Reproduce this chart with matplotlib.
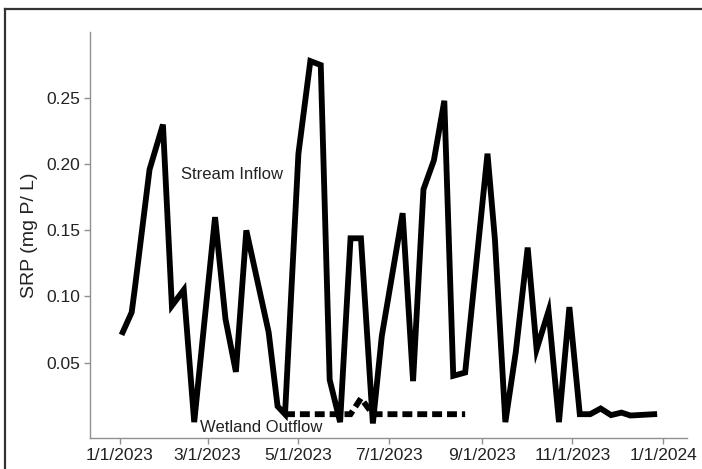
import numpy as np
import pandas as pd
import matplotlib
matplotlib.use('Agg')
import matplotlib.pyplot as plt
import matplotlib.dates as mdates
from matplotlib.lines import Line2D

plt.rcParams.update({'font.family': ['Liberation Sans', 'DejaVu Sans'],
                     'font.size': 12.5})

# stream inflow SRP samples
inflow_dates = ['2023-01-03', '2023-01-09', '2023-01-11', '2023-01-21', '2023-01-30',
                '2023-02-05', '2023-02-13', '2023-02-20', '2023-03-06', '2023-03-13',
                '2023-03-20', '2023-03-27', '2023-04-11', '2023-04-17', '2023-04-22',
                '2023-05-01', '2023-05-09', '2023-05-16', '2023-05-22', '2023-05-29',
                '2023-06-05', '2023-06-12', '2023-06-20', '2023-06-26', '2023-07-10',
                '2023-07-17', '2023-07-24', '2023-07-31', '2023-08-07', '2023-08-13',
                '2023-08-21', '2023-09-05', '2023-09-10', '2023-09-17', '2023-09-24',
                '2023-10-02', '2023-10-08', '2023-10-16', '2023-10-23', '2023-10-30',
                '2023-11-06', '2023-11-13', '2023-11-20', '2023-11-27', '2023-12-04',
                '2023-12-10', '2023-12-26']
inflow_srp = [0.073, 0.088, 0.105, 0.196, 0.230,
              0.093, 0.105, 0.005, 0.160, 0.083,
              0.043, 0.150, 0.073, 0.017, 0.011,
              0.208, 0.278, 0.275, 0.037, 0.005,
              0.144, 0.144, 0.004, 0.070, 0.163,
              0.036, 0.181, 0.203, 0.248, 0.040,
              0.0425, 0.208, 0.143, 0.005, 0.058,
              0.137, 0.060, 0.089, 0.005, 0.092,
              0.011, 0.011, 0.0153, 0.0103, 0.0122,
              0.010, 0.011]

# wetland outflow SRP samples
outflow_dates = ['2023-04-22', '2023-06-05', '2023-06-12', '2023-06-20', '2023-08-21']
outflow_srp = [0.011, 0.011, 0.023, 0.011, 0.011]

x_in = pd.to_datetime(inflow_dates)
x_out = pd.to_datetime(outflow_dates)

fig = plt.figure(figsize=(7.02, 4.69), dpi=100)
ax = fig.add_axes([0.1282, 0.0661, 0.8504, 0.8657])

ax.plot(x_in, inflow_srp, color='k', lw=4.2, solid_joinstyle='miter')
ax.plot(x_out, outflow_srp, color='k', lw=4.2, linestyle=(0, (1.7, 0.85)),
        dash_joinstyle='miter')

ax.text(pd.Timestamp('2023-02-11'), 0.192, 'Stream Inflow', fontsize=12,
        color='#222222', va='center', ha='left')
ax.text(pd.Timestamp('2023-02-24'), 0.0008, 'Wetland Outflow', fontsize=12,
        color='#222222', va='center', ha='left')

ax.set_xlim(pd.Timestamp('2022-12-12'), pd.Timestamp('2024-01-17'))
ax.set_ylim(-0.007, 0.300)
ax.set_yticks([0.05, 0.10, 0.15, 0.20, 0.25])
ax.yaxis.set_major_formatter(plt.FormatStrFormatter('%.2f'))
ax.xaxis.set_major_locator(mdates.MonthLocator(bymonth=[1, 3, 5, 7, 9, 11]))
ax.xaxis.set_major_formatter(plt.FuncFormatter(
    lambda v, pos: '{d.month}/{d.day}/{d.year}'.format(d=mdates.num2date(v))))
ax.set_ylabel('SRP (mg P/ L)', fontsize=14, color='#222222', labelpad=6)

for s in ['top', 'right']:
    ax.spines[s].set_visible(False)
for s in ['left', 'bottom']:
    ax.spines[s].set_color('#909090')
    ax.spines[s].set_linewidth(1.0)
ax.tick_params(colors='#909090', labelcolor='#222222', length=4, width=1.0, pad=3)

# outer frame: only the top and left edges show in the picture
top = 1 - 9 / 469
left = 5 / 702
fig.lines.append(Line2D([left, 1.0], [top, top], transform=fig.transFigure,
                        color='#333333', lw=1.6))
fig.lines.append(Line2D([left, left], [0.0, top], transform=fig.transFigure,
                        color='#333333', lw=1.6))

fig.savefig('out.png', dpi=100)
